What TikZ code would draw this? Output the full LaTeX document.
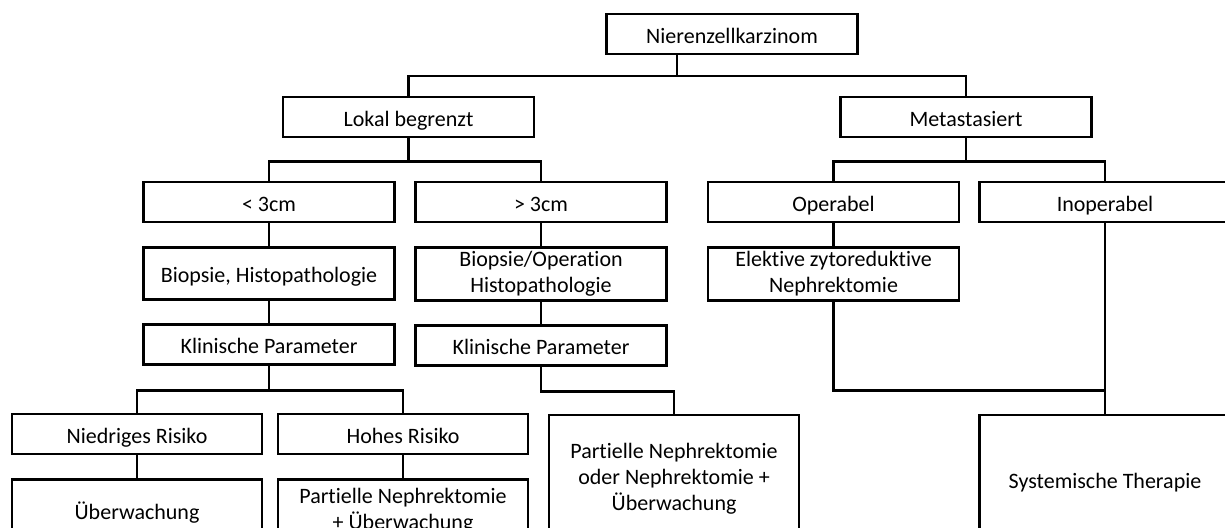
\documentclass[tikz,border=0pt]{standalone}
\usepackage{fontspec}
\setmainfont{Carlito}[Ligatures=NoCommon]
\usetikzlibrary{positioning}

\begin{document}
\begin{tikzpicture}[
  x=0.5pt, y=-0.5pt,
  node distance=11.5pt,
  box/.style={draw, line width=1.3pt, align=center, minimum width=125.5pt, minimum height=20pt, inner sep=2pt, text height=11.6pt, text depth=2.6pt, font=\fontsize{11}{13}\selectfont},
  twoline/.style={box, minimum height=26pt, text height=, text depth=},
  link/.style={line width=1.3pt}
]
\useasboundingbox (0,0) rectangle (1225,527);
\clip (0,0) rectangle (1225,527);
\node[box] (nzk) at (732,34) {Nierenzellkarzinom};
\node[box] (lokal) at (408.5,117) {Lokal begrenzt};
\node[box] (meta) at (966,117) {Metastasiert};
\node[box] (lt3) at (269,202) {< 3cm};
\node[box] (gt3) at (541,202) {> 3cm};
\node[box] (oper) at (833.5,202) {Operabel};
\node[box] (inop) at (1105,202) {Inoperabel};
\node[box, minimum height=26pt, below=of lt3] (biopL) {Biopsie, Histopathologie};
\node[twoline, below=of gt3] (biopR) {Biopsie/Operation\\Histopathologie};
\node[twoline, below=of oper] (elekt) {Elektive zytoreduktive\\Nephrektomie};
\node[box, below=11pt of biopL] (klinL) {Klinische Parameter};
\node[box, below=11pt of biopR] (klinR) {Klinische Parameter};
\node[box, minimum width=125pt] (niedrig) at (137,434) {Niedriges Risiko};
\node[box, minimum width=125pt] (hoch) at (403,434) {Hohes Risiko};
\node[box, minimum width=125pt, minimum height=31pt, below=of niedrig] (ueberw) {Überwachung};
\node[twoline, minimum width=125pt, minimum height=31pt, below=of hoch] (pnue) {Partielle Nephrektomie\\+ Überwachung};
\node[twoline, minimum width=125pt, minimum height=64pt] (partiell) at (674,479) {Partielle Nephrektomie\\oder Nephrektomie +\\Überwachung};
\node[box, minimum height=64pt] (system) at (1105,479) {Systemische Therapie};
\coordinate (top) at (677,76);
\draw[link] (nzk.south -| top) -- (top);
\draw[link] (lokal.north) |- (top) -| (meta.north);
\draw[link] (lokal.south) -- ++(0,23) coordinate (lsplit);
\draw[link] (lt3.north) |- (lsplit) -| (gt3.north);
\draw[link] (meta.south) -- ++(0,23) coordinate (msplit);
\draw[link] (oper.north) |- (msplit) -| (inop.north);
\draw[link] (lt3) -- (biopL);
\draw[link] (biopL) -- (klinL);
\draw[link] (gt3) -- (biopR);
\draw[link] (biopR) -- (klinR);
\draw[link] (oper) -- (elekt);
\draw[link] (klinL.south) -- ++(0,25) coordinate (ksplit);
\draw[link] (niedrig.north) |- (ksplit) -| (hoch.north);
\draw[link] (niedrig) -- (ueberw);
\draw[link] (hoch) -- (pnue);
\draw[link] (klinR.south) -- ++(0,25) -| (partiell.north);
\draw[link] (inop.south) -- (system.north);
\draw[link] (elekt.south) |- (system.north |- ksplit);
\end{tikzpicture}
\end{document}
